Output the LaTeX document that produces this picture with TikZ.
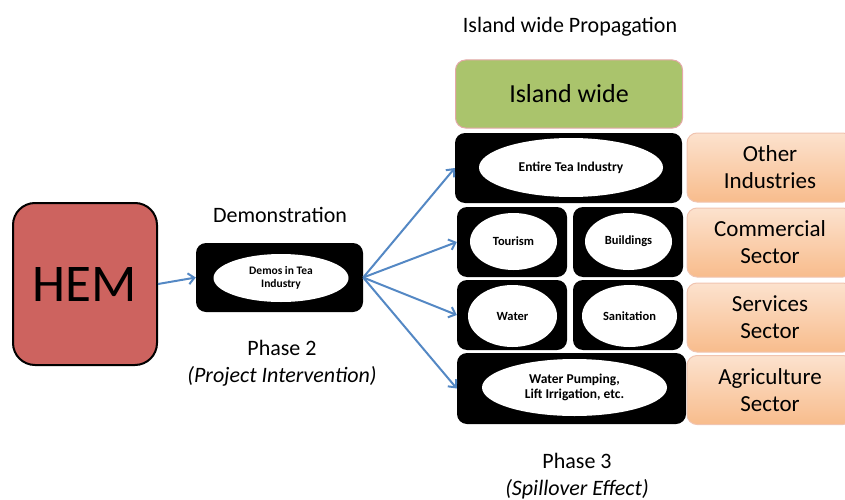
\documentclass[tikz,border=0pt]{standalone}
\usepackage{fontspec}
\setmainfont{Carlito}
\usetikzlibrary{shapes.geometric,arrows.meta}

\definecolor{hemred}{RGB}{205,99,95}
\definecolor{islgreen}{RGB}{170,196,108}
\definecolor{islborder}{RGB}{228,168,168}
\definecolor{sectop}{RGB}{252,226,206}
\definecolor{secbot}{RGB}{248,188,140}
\definecolor{secborder}{RGB}{240,196,176}
\definecolor{arrowblue}{RGB}{84,136,196}

\tikzset{
  blackbox/.style={fill=black, rounded corners=10pt, inner sep=0pt},
  whiteell/.style={ellipse, fill=white, inner sep=0pt, align=center, font=\fontsize{13.5}{15}\selectfont\bfseries},
  sectorbox/.style={rounded corners=10pt, top color=sectop, bottom color=secbot, draw=secborder, line width=1pt,
    minimum width=166pt, minimum height=69pt, align=center, font=\fontsize{23}{27}\selectfont},
  flowarrow/.style={draw=arrowblue, line width=2pt, -{Straight Barb[length=6pt,width=11pt]}},
  caption/.style={align=center, font=\fontsize{22}{27}\selectfont}
}

\begin{document}
\begin{tikzpicture}[x=1pt,y=1pt,yscale=-1]
    \useasboundingbox (0,0) rectangle (845,500);
    % HEM
    \node [draw, line width=2pt, fill=hemred, rounded corners=22pt, minimum width=144pt, minimum height=162pt,
      font=\fontsize{53}{57}\selectfont] (hem) at (85,284) {HEM};
    % Phase 2
    \node [blackbox, minimum width=167pt, minimum height=69pt] (demo) at (279.5,277.5) {};
    \node [whiteell, minimum width=135pt, minimum height=48pt, font=\fontsize{11.5}{13.5}\selectfont\bfseries] (demoell) at (281,278) {Demos in Tea\\Industry};
    \node [caption] (demolbl) at (280,215) {Demonstration};
    \node [caption] (phase2) at (282,363) {Phase 2\\\textit{(Project Intervention)}};

    % Phase 3, island wide
    \node [caption] (isllbl) at (570,27) {Island wide Propagation};
    \node [rounded corners=10pt, fill=islgreen, draw=islborder, line width=1pt, minimum width=227pt, minimum height=68pt,
      font=\fontsize{26}{30}\selectfont] (island) at (569,94) {Island wide};

    % Black boxes with ellipses
    \node [blackbox, minimum width=227pt, minimum height=70pt] (teabox) at (568.5,168) {};
    \node [whiteell, minimum width=184pt, minimum height=59pt] (teaell) at (571,167.5) {Entire Tea Industry};
    \node [blackbox, minimum width=110pt, minimum height=70pt] (tourbox) at (512,242) {};
    \node [whiteell, minimum width=87pt, minimum height=57pt, font=\fontsize{12.5}{14}\selectfont\bfseries] (tourell) at (513.5,241.5) {Tourism};
    \node [blackbox, minimum width=110pt, minimum height=70pt] (buildbox) at (628,242) {};
    \node [whiteell, minimum width=87pt, minimum height=57pt, font=\fontsize{12.5}{14}\selectfont\bfseries] (buildell) at (628.5,241.5) {Buildings};
    \node [blackbox, minimum width=110pt, minimum height=70pt] (waterbox) at (512,315) {};
    \node [whiteell, minimum width=89pt, minimum height=62pt, font=\fontsize{12.5}{14}\selectfont\bfseries] (waterell) at (512.5,316) {Water};
    \node [blackbox, minimum width=110pt, minimum height=70pt] (sanbox) at (628,315) {};
    \node [whiteell, minimum width=95pt, minimum height=62pt, font=\fontsize{12.5}{14}\selectfont\bfseries] (sanell) at (629.5,316) {Sanitation};
    \node [blackbox, minimum width=229pt, minimum height=71pt] (agribox) at (571.5,388.5) {};
    \node [whiteell, minimum width=185pt, minimum height=57pt] (agriell) at (574.5,387.5) {Water Pumping,\\Lift Irrigation, etc.};

    % Sectors
    \node [sectorbox] (other) at (770,167.5) {Other\\Industries};
    \node [sectorbox] (commercial) at (770,242.5) {Commercial\\Sector};
    \node [sectorbox] (services) at (770,317.5) {Services\\Sector};
    \node [sectorbox] (agriculture) at (770,390) {Agriculture\\Sector};

    \node [caption] (phase3) at (577,476) {Phase 3\\\textit{(Spillover Effect)}};

    % Arrows
    \draw [flowarrow] (hem.east) -- (demo.west);
    \draw [flowarrow] (demo.east) -- (teabox.west);
    \draw [flowarrow] (demo.east) -- (tourbox.west);
    \draw [flowarrow] (demo.east) -- (waterbox.west);
    \draw [flowarrow] (demo.east) -- (agribox.west);
\end{tikzpicture}
\end{document}
